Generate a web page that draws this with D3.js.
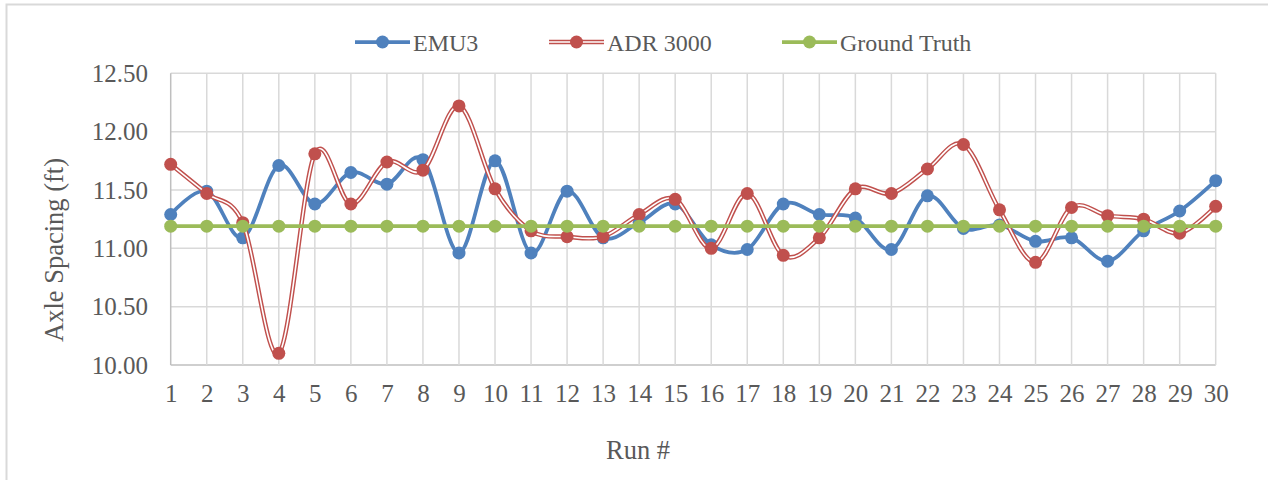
<!DOCTYPE html>
<html>
<head>
<meta charset="utf-8">
<script src="https://cdn.jsdelivr.net/npm/d3@7"></script>
<style>
  html, body { margin: 0; padding: 0; background: #fff; }
  svg { display: block; }
  text { font-family: "Liberation Serif", "Times New Roman", serif; fill: #595959; }
</style>
</head>
<body>
<svg id="chart" width="1268" height="480"></svg>
<script>
const runs = d3.range(1, 31);
const emu3 = [11.29, 11.49, 11.09, 11.71, 11.38, 11.65, 11.55, 11.76, 10.96, 11.75,
              10.96, 11.49, 11.09, 11.22, 11.38, 11.03, 10.99, 11.38, 11.29, 11.26,
              10.99, 11.45, 11.17, 11.20, 11.06, 11.09, 10.89, 11.15, 11.32, 11.58];
const adr3000 = [11.72, 11.47, 11.22, 10.10, 11.81, 11.38, 11.74, 11.67, 12.22, 11.51,
                 11.15, 11.10, 11.10, 11.29, 11.42, 11.00, 11.47, 10.94, 11.09, 11.51,
                 11.47, 11.68, 11.89, 11.33, 10.88, 11.35, 11.28, 11.25, 11.13, 11.36];
const groundTruth = runs.map(() => 11.19);
const yTicks = [10.0, 10.5, 11.0, 11.5, 12.0, 12.5];
const seriesNames = ["EMU3", "ADR 3000", "Ground Truth"];

const svg = d3.select("#chart");
const C = { blue: "#4F81BD", red: "#C0504D", green: "#9BBB59", grid: "#D9D9D9", axis: "#BFBFBF" };

// chart border (only top/left visible)
svg.append("path").attr("d", "M6.5,480 V4.5 H1268").attr("fill", "none")
  .attr("stroke", C.grid).attr("stroke-width", 2);

const x = d3.scalePoint().domain(runs).range([170.7, 1215.7]);
const y = d3.scaleLinear().domain([10, 12.5]).range([365, 73.3]);

// horizontal gridlines
svg.append("g").selectAll("line").data(yTicks).join("line")
  .attr("x1", x(1)).attr("x2", x(30))
  .attr("y1", d => y(d)).attr("y2", d => y(d))
  .attr("stroke", d => d === 10 ? C.axis : C.grid).attr("stroke-width", 1.5);
// vertical gridlines
svg.append("g").selectAll("line").data(runs).join("line")
  .attr("x1", d => x(d)).attr("x2", d => x(d))
  .attr("y1", y(12.5)).attr("y2", y(10))
  .attr("stroke", d => d === 1 ? C.axis : C.grid).attr("stroke-width", 1.5);

// y axis labels
const yAxis = d3.axisLeft(y).tickValues(yTicks).tickFormat(d3.format(".2f")).tickSize(0).tickPadding(0);
const ya = svg.append("g").attr("transform", "translate(148,0)").call(yAxis);
ya.select(".domain").remove();
ya.selectAll("text").attr("font-size", 25).attr("dy", "0.33em")
  .style("font-family", '"Liberation Serif", serif').attr("fill", "#595959");

// x axis labels
const xAxis = d3.axisBottom(x).tickSize(0).tickPadding(0);
const xa = svg.append("g").attr("transform", "translate(0,384)").call(xAxis);
xa.select(".domain").remove();
xa.selectAll("text").attr("font-size", 25).attr("dy", "0.7em")
  .style("font-family", '"Liberation Serif", serif').attr("fill", "#595959");

// axis titles
svg.append("text").attr("x", 638).attr("y", 459).attr("text-anchor", "middle")
  .attr("font-size", 26.5).text("Run #");
svg.append("text").attr("transform", "translate(63,250) rotate(-90)").attr("text-anchor", "middle")
  .attr("font-size", 26.5).text("Axle Spacing (ft)");

const line = d3.line().x((d, i) => x(runs[i])).y(d => y(d)).curve(d3.curveCardinal.tension(0));
const straight = d3.line().x((d, i) => x(runs[i])).y(d => y(d));

// EMU3
svg.append("path").datum(emu3).attr("d", line).attr("fill", "none")
  .attr("stroke", C.blue).attr("stroke-width", 3.75);
svg.append("g").selectAll("circle").data(emu3).join("circle")
  .attr("cx", (d, i) => x(runs[i])).attr("cy", d => y(d)).attr("r", 6.5).attr("fill", C.blue);

// ADR 3000 (double line)
svg.append("path").datum(adr3000).attr("d", line).attr("fill", "none")
  .attr("stroke", C.red).attr("stroke-width", 4.5);
svg.append("path").datum(adr3000).attr("d", line).attr("fill", "none")
  .attr("stroke", "#fff").attr("stroke-width", 1.6);
svg.append("g").selectAll("circle").data(adr3000).join("circle")
  .attr("cx", (d, i) => x(runs[i])).attr("cy", d => y(d)).attr("r", 6.5).attr("fill", C.red);

// Ground truth
svg.append("path").datum(groundTruth).attr("d", straight).attr("fill", "none")
  .attr("stroke", C.green).attr("stroke-width", 3.75);
svg.append("g").selectAll("circle").data(groundTruth).join("circle")
  .attr("cx", (d, i) => x(runs[i])).attr("cy", d => y(d)).attr("r", 6.5).attr("fill", C.green);

// legend
const legendItems = [
  { name: seriesNames[0], color: C.blue, x0: 355, double: false },
  { name: seriesNames[1], color: C.red, x0: 549, double: true },
  { name: seriesNames[2], color: C.green, x0: 782, double: false }
];
const lg = svg.append("g");
legendItems.forEach(it => {
  const ly = 42;
  lg.append("line").attr("x1", it.x0).attr("x2", it.x0 + 55).attr("y1", ly).attr("y2", ly)
    .attr("stroke", it.color).attr("stroke-width", it.double ? 4.5 : 3.75);
  if (it.double) {
    lg.append("line").attr("x1", it.x0).attr("x2", it.x0 + 55).attr("y1", ly).attr("y2", ly)
      .attr("stroke", "#fff").attr("stroke-width", 1.6);
  }
  lg.append("circle").attr("cx", it.x0 + 27.5).attr("cy", ly).attr("r", 6.5).attr("fill", it.color);
  lg.append("text").attr("x", it.x0 + 58).attr("y", ly + 8.5).attr("font-size", 24).text(it.name);
});
</script>
</body>
</html>
